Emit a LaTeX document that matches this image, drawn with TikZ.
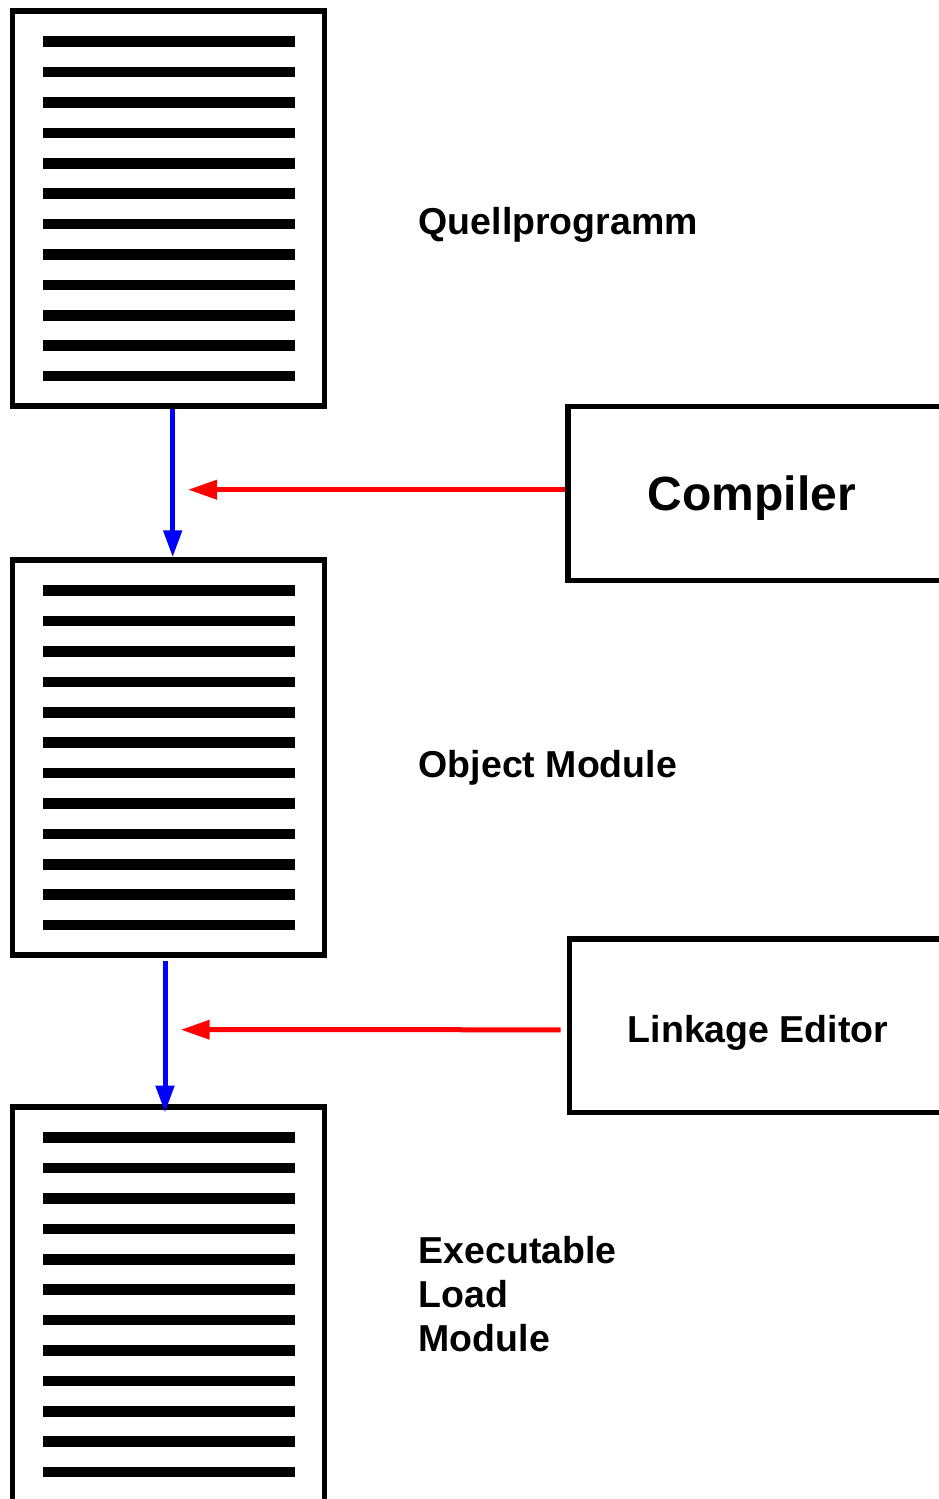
\documentclass[tikz,border=0pt]{standalone}
\usepackage{fontspec}
\setmainfont{Liberation Sans}
\usetikzlibrary{arrows.meta}
\begin{document}
\begin{tikzpicture}[x=1pt,y=-1pt,
  docbox/.style={draw, line width=5.5pt, minimum width=312pt, minimum height=395pt, inner sep=0pt},
  procbox/.style={draw, line width=5.5pt, inner sep=0pt},
  textline/.style={line width=10.5pt},
  lbl/.style={font=\bfseries\fontsize{37.5}{44}\selectfont, inner sep=0pt, anchor=base west, align=left},
  biglbl/.style={font=\bfseries\fontsize{48}{57}\selectfont, inner sep=0pt, anchor=base},
  flow/.style={draw=blue, line width=5pt, -{Triangle[length=27pt,width=18pt]}},
  feed/.style={draw=red, line width=5pt, -{Triangle[length=29pt,width=18.6pt]}}]
\useasboundingbox (0,0) rectangle (939,1499);
\clip (0,0) rectangle (939,1499);

% documents
\node[docbox] (doc1) at (168.5,208.5) {};
\node[docbox] (doc2) at (168.5,757.5) {};
\node[docbox] (doc3) at (168.5,1304.5) {};
\foreach \t in {11,560,1107}{
  \foreach \i in {0,...,11}{
    \draw[textline] (43,{\t+30.7+30.4*\i}) -- (295,{\t+30.7+30.4*\i});
  }
}

% processors
\node[procbox, minimum width=400pt, minimum height=174pt] (compiler) at (768,493.5) {};
\node[biglbl] (compilerlabel) at (752,510) {Compiler};
\node[procbox, minimum width=400pt, minimum height=173.5pt] (linker) at (769.5,1025.75) {};
\node[lbl, anchor=base] (linkerlabel) at (758,1042) {Linkage Editor};

% labels
\node[lbl] (srclabel) at (418.5,234) {Quellprogramm};
\node[lbl] (objlabel) at (418.5,777) {Object Module};
\node[lbl] (exelabel) at (418.5,1351) {Executable\\Load\\Module};

% flows
\draw[flow] ([xshift=4.2pt]doc1.south) -- ([xshift=4.2pt]doc2.north);
\draw[flow] ([xshift=-3.5pt,yshift=-2.75pt]doc2.south) -- ([xshift=-3.5pt,yshift=-8.25pt]doc3.north);

\coordinate (tip1) at (188,489.7);
\coordinate (tip2) at (180.7,1029.7);
\draw[feed] ([yshift=3.8pt]compiler.west) -- (tip1);
\draw[feed] ([xshift=-6.25pt,yshift=-4pt]linker.west) -- (tip2);
\end{tikzpicture}
\end{document}
